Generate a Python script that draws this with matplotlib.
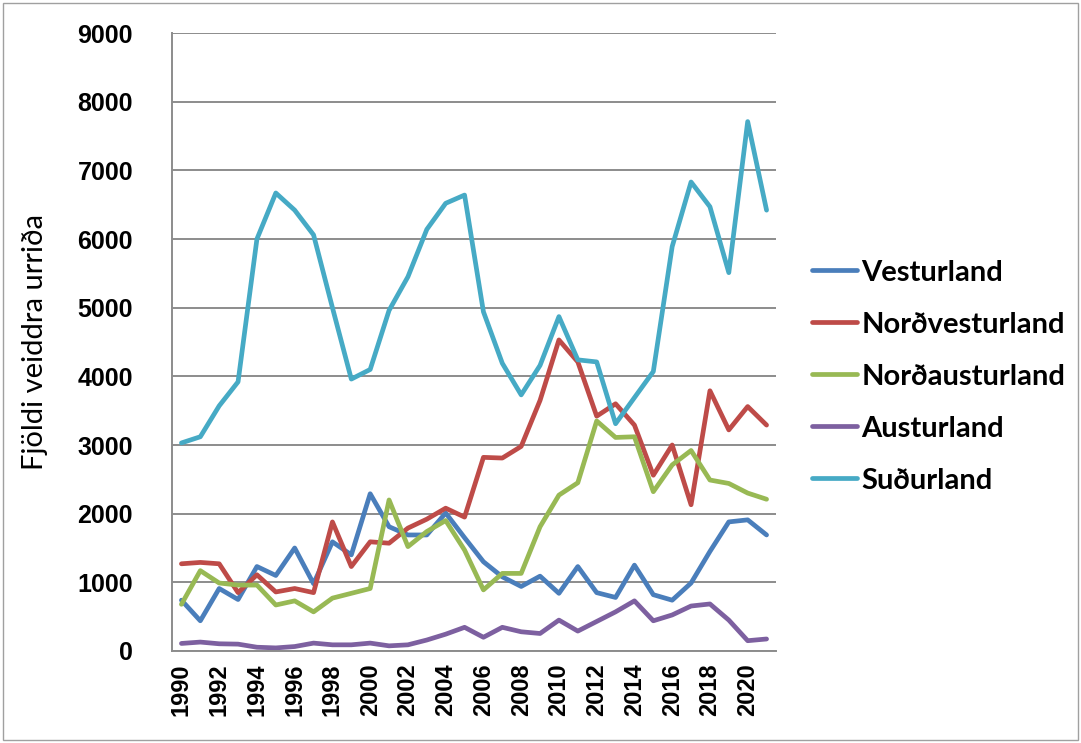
import matplotlib
matplotlib.use("Agg")
import matplotlib.pyplot as plt
from matplotlib.patches import Rectangle

years = list(range(1990, 2022))

vesturland = [740, 440, 910, 750, 1230, 1100, 1500, 980, 1590, 1400, 2290,
              1810, 1690, 1690, 2010, 1650, 1300, 1080, 940, 1090, 840,
              1230, 850, 780, 1250, 820, 740, 990, 1450, 1880, 1910, 1690]
nordvesturland = [1270, 1290, 1270, 850, 1110, 860, 910, 850, 1880, 1230, 1590,
                  1570, 1790, 1920, 2080, 1950, 2820, 2810, 2980, 3650, 4530,
                  4210, 3420, 3600, 3290, 2560, 3000, 2130, 3790, 3220, 3560, 3290]
nordausturland = [680, 1170, 990, 960, 960, 670, 730, 570, 770, 840, 910,
                  2200, 1520, 1740, 1900, 1470, 890, 1130, 1130, 1810, 2270,
                  2450, 3350, 3110, 3120, 2320, 2710, 2920, 2490, 2440, 2300, 2210]
austurland = [110, 130, 105, 100, 55, 45, 65, 115, 90, 90, 115,
              75, 90, 160, 245, 345, 200, 345, 280, 255, 450,
              290, 430, 570, 730, 440, 525, 655, 685, 450, 150, 175]
sudurland = [3030, 3120, 3570, 3920, 6000, 6670, 6420, 6060, 5000, 3960, 4100,
             4960, 5450, 6140, 6520, 6640, 4940, 4190, 3730, 4160, 4870,
             4240, 4210, 3310, 3690, 4070, 5890, 6830, 6470, 5510, 7710, 6420]

series = [
    ("Vesturland", vesturland, "#4A7EBB"),
    ("Norðvesturland", nordvesturland, "#BE4B48"),
    ("Norðausturland", nordausturland, "#98B954"),
    ("Austurland", austurland, "#7D60A0"),
    ("Suðurland", sudurland, "#46AAC5"),
]

yticks = list(range(0, 9001, 1000))
xtick_years = list(range(1990, 2021, 2))

fig = plt.figure(figsize=(10.81, 7.43), dpi=100)
fig.patch.set_facecolor("white")
fig.patches.append(Rectangle((0.003, 0.004), 0.994, 0.992, transform=fig.transFigure,
                             fill=False, edgecolor="#a0a0a0", linewidth=1.0))

ax = fig.add_axes([172 / 1081, 1 - 651 / 743, 604 / 1081, 618 / 743])

for name, vals, col in series:
    ax.plot(years, vals, color=col, linewidth=3.4, label=name,
            solid_joinstyle="round", solid_capstyle="round")

ax.set_xlim(years[0] - 0.5, years[-1] + 0.5)
ax.set_ylim(0, 9000)
ax.set_yticks(yticks)
ax.set_yticklabels([str(v) for v in yticks], fontfamily="Liberation Sans",
                   fontweight="bold", fontsize=18)
ax.set_xticks(xtick_years)
ax.set_xticklabels([str(y) for y in xtick_years], rotation=90,
                   fontfamily="Liberation Sans", fontweight="bold", fontsize=17)
ax.tick_params(axis="y", length=0, pad=28)
ax.tick_params(axis="x", length=0, pad=9)
ax.yaxis.grid(True, color="#8c8c8c", linewidth=1.4)
ax.set_axisbelow(True)
for s in ["top", "right"]:
    ax.spines[s].set_visible(False)
for s in ["left", "bottom"]:
    ax.spines[s].set_color("#8c8c8c")
    ax.spines[s].set_linewidth(1.4)

ax.set_ylabel("Fjöldi veiddra urriða", fontfamily="Lato", fontsize=21)
ax.yaxis.set_label_coords(-0.205, 0.5)

leg = fig.legend(loc="upper left", bbox_to_anchor=(800 / 1081, 1 - 248 / 743),
                 frameon=False, prop={"family": "Lato", "weight": "bold", "size": 21},
                 handlelength=1.55, handletextpad=0.15, labelspacing=0.89,
                 borderaxespad=0)

fig.savefig("out.png", dpi=100, facecolor="white")
